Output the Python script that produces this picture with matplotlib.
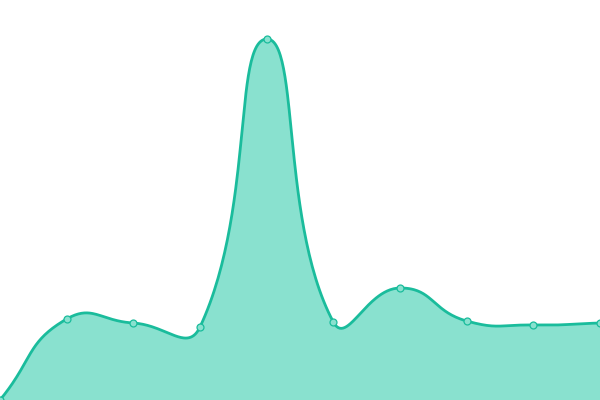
import numpy as np
import matplotlib
matplotlib.use("Agg")
import matplotlib.pyplot as plt

# values (0 = bottom edge, 400 = top edge)
x = [0, 1, 2, 3, 4, 5, 6, 7, 8, 9]
values = [0, 81, 77, 73, 361, 78, 112, 79, 75, 77]

LINE = "#1abc9c"
FILL = "#89e1cf"
W, H = 600, 400


def smooth_bezier(xs, ys, smooth=0.5, n=60):
    """Distance-weighted bezier smoothing, done in pixel space (drawing only)."""
    P = np.column_stack([np.asarray(xs, float) * W / (len(xs) - 1), np.asarray(ys, float)])
    cp0 = P.copy(); cp1 = P.copy()
    for i in range(len(P)):
        prev = P[i - 1] if i > 0 else P[i]
        nxt = P[i + 1] if i < len(P) - 1 else P[i]
        v = nxt - prev
        d0 = np.linalg.norm(P[i] - prev); d1 = np.linalg.norm(nxt - P[i])
        cp0[i] = P[i] - v * smooth * d0 / (d0 + d1)
        cp1[i] = P[i] + v * smooth * d1 / (d0 + d1)
    t = np.linspace(0, 1, n, endpoint=False)[:, None]
    pts = []
    for i in range(len(P) - 1):
        a, b, c, d = P[i], cp1[i], cp0[i + 1], P[i + 1]
        pts.append((1 - t) ** 3 * a + 3 * (1 - t) ** 2 * t * b + 3 * (1 - t) * t ** 2 * c + t ** 3 * d)
    pts.append(P[-1:])
    pts = np.vstack(pts)
    return pts[:, 0] * (len(xs) - 1) / W, pts[:, 1]


cx, cy = smooth_bezier(x, values)

fig = plt.figure(figsize=(6, 4), dpi=100)
ax = fig.add_axes([0, 0, 1, 1])
ax.fill_between(cx, cy, 0, color=FILL, lw=0)
ax.plot(cx, cy, color=LINE, lw=2, solid_capstyle="round")
ax.plot(x, values, "o", ms=5, mfc=FILL, mec=LINE, mew=0.9, clip_on=False)
ax.set_xlim(0, 9); ax.set_ylim(0, 400)
ax.axis("off")
fig.savefig("out.png", dpi=100)
